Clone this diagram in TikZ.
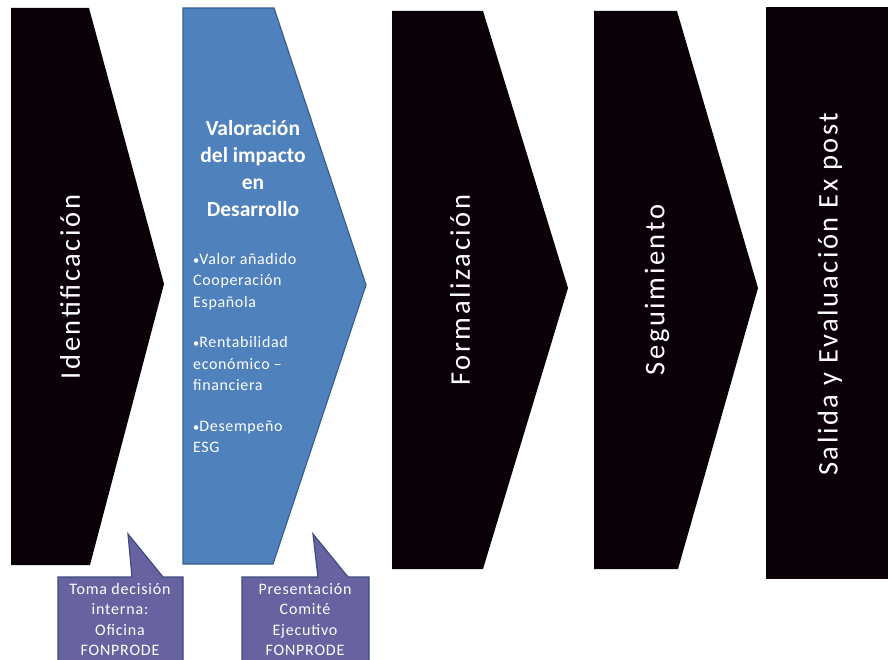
\documentclass[tikz,border=0pt]{standalone}
\usepackage{fontspec}
\setmainfont{Carlito}
\definecolor{blk}{HTML}{0A0008}
\definecolor{blu}{HTML}{4F81BD}
\definecolor{bluedge}{HTML}{3A5F8B}
\definecolor{callfill}{HTML}{6862A0}
\definecolor{calledge}{HTML}{3E4B7E}
\newcommand{\smbul}{{\fontsize{12.5}{12.5}\selectfont•}}
\begin{document}
\begin{tikzpicture}[x=1pt,y=-1pt,
  blackstep/.style={fill=blk,draw=none},
  bluestep/.style={fill=blu,draw=bluedge,line width=1.2pt},
  callout/.style={fill=callfill,draw=calledge,line width=1.2pt},
  vlabel/.style={text=white,rotate=90,font=\fontsize{28.5}{30}\selectfont\addfontfeatures{LetterSpace=9},inner sep=0pt},
  calltext/.style={text=white,align=center,font=\fontsize{16}{20.5}\selectfont\addfontfeatures{LetterSpace=5},inner sep=0pt,anchor=north}]
\useasboundingbox (0,0) rectangle (888,660);
% black chevrons
\path[blackstep] (11,8) -- (89,8) -- (164,284) -- (90,565) -- (11,565) -- cycle;
\path[blackstep] (392,11) -- (483,11) -- (568,288) -- (483,569) -- (392,569) -- cycle;
\path[blackstep] (594,11) -- (677,11) -- (758,288) -- (678,569) -- (594,569) -- cycle;
\path[blackstep] (766,7) -- (892,7) -- (892,579) -- (766,579) -- cycle;
% blue chevron
\path[bluestep] (183,8) -- (274,8) -- (366,285) -- (273,564) -- (183,564) -- cycle;
% callouts
\path[callout] (58,577) -- (132,577) -- (128,534) -- (163,577) -- (183,577) -- (183,670) -- (58,670) -- cycle;
\path[callout] (242,577) -- (318,577) -- (313,534) -- (348,577) -- (369,577) -- (369,670) -- (242,670) -- cycle;
% labels
\node[vlabel] (ident) at (70,287) {Identificación};
\node[vlabel] (form) at (460,290) {Formalización};
\node[vlabel] (segui) at (657,290) {Seguimiento};
\node[vlabel] (salida) at (830,294) {Salida y Evaluación Ex post};
\node[text=white,align=center,inner sep=0pt,anchor=north,font=\fontsize{21.5}{27}\selectfont\bfseries] (valtitle) at (253,120) {Valoración\\del impacto\\en\\Desarrollo};
\node[text=white,align=left,inner sep=0pt,anchor=north west,font=\fontsize{16}{21.5}\selectfont\addfontfeatures{LetterSpace=4}] (bullets) at (193,253) {\smbul Valor añadido\\Cooperación\\Española\\[19pt]\smbul Rentabilidad\\económico –\\financiera\\[19pt]\smbul Desempeño\\ESG};
\node[calltext] (c1) at (120,583) {Toma decisión\\interna:\\Oficina\\FONPRODE};
\node[calltext] (c2) at (305,583) {Presentación\\Comité\\Ejecutivo\\FONPRODE};
\end{tikzpicture}
\end{document}
